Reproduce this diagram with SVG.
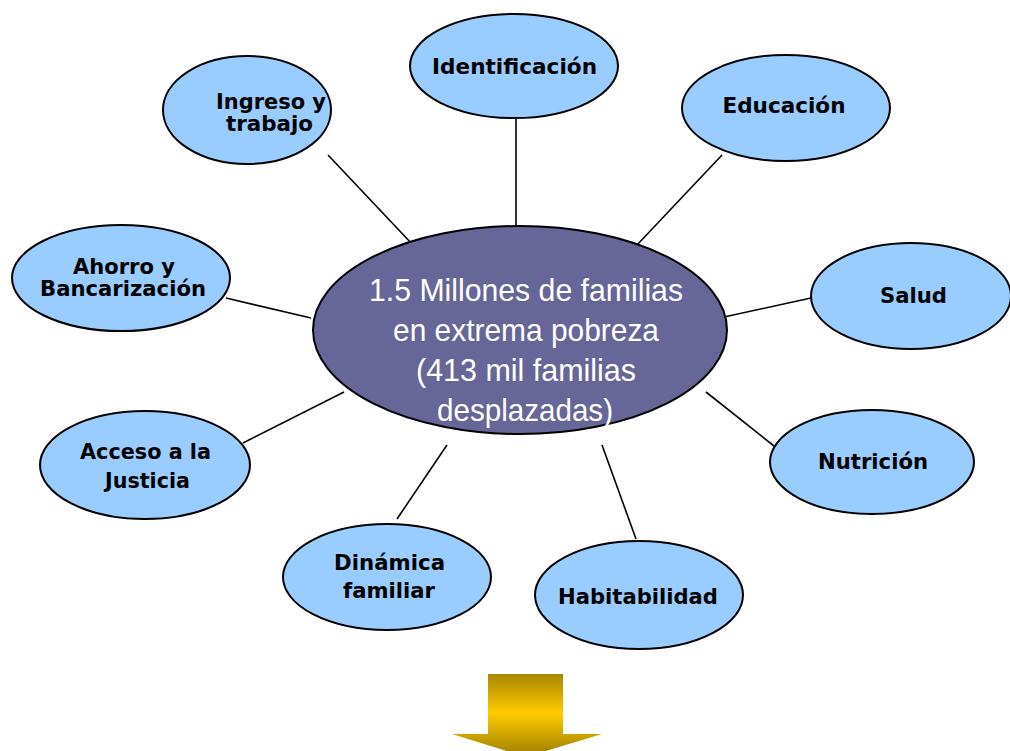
<svg xmlns="http://www.w3.org/2000/svg" width="1010" height="751" viewBox="0 0 1010 751">
<defs>
<linearGradient id="gold" gradientUnits="userSpaceOnUse" x1="0" y1="674" x2="0" y2="757">
<stop offset="0" stop-color="#a98600"/>
<stop offset="0.47" stop-color="#ffcc00"/>
<stop offset="1" stop-color="#9c7c00"/>
</linearGradient>
<style>
.sat{fill:#99ccff;stroke:#000;stroke-width:2}
.ctr{fill:#666699;stroke:#000;stroke-width:2}
.lbl{font-family:"DejaVu Sans",Verdana,sans-serif;font-weight:bold;font-size:21px;fill:#000;text-anchor:middle}
.big{font-family:"Liberation Sans",Arial,sans-serif;font-size:32px;fill:#fff;text-anchor:middle}
.con line{stroke:#000;stroke-width:1.6}
</style>
</defs>
<rect width="1010" height="751" fill="#fff"/>
<g class="con" id="connectors">
<line x1="328" y1="155" x2="413" y2="245"/>
<line x1="516" y1="118" x2="516" y2="226"/>
<line x1="722" y1="155" x2="637" y2="245"/>
<line x1="226" y1="298" x2="311" y2="318"/>
<line x1="811" y1="298" x2="724" y2="317"/>
<line x1="243" y1="443" x2="344" y2="392"/>
<line x1="774" y1="446" x2="706" y2="392"/>
<line x1="397" y1="519" x2="447" y2="445"/>
<line x1="636" y1="539" x2="602" y2="445"/>
</g>
<g id="center">
<ellipse class="ctr" cx="520" cy="330" rx="207" ry="104"/>
<text class="big" x="526" y="301" textLength="314" lengthAdjust="spacingAndGlyphs">1.5 Millones de familias</text>
<text class="big" x="526" y="341" textLength="266" lengthAdjust="spacingAndGlyphs">en extrema pobreza</text>
<text class="big" x="526" y="381" textLength="220" lengthAdjust="spacingAndGlyphs">(413 mil familias</text>
<text class="big" x="525" y="421" textLength="176" lengthAdjust="spacingAndGlyphs">desplazadas)</text>
</g>
<g id="identificacion">
<ellipse class="sat" cx="514" cy="66" rx="104" ry="52"/>
<text class="lbl" x="514.5" y="74" textLength="165" lengthAdjust="spacingAndGlyphs">Identificación</text>
</g>
<g id="ingreso">
<ellipse class="sat" cx="247" cy="110" rx="84" ry="54"/>
<text class="lbl" x="271" y="109" textLength="110" lengthAdjust="spacingAndGlyphs">Ingreso y</text>
<text class="lbl" x="269.5" y="131" textLength="87" lengthAdjust="spacingAndGlyphs">trabajo</text>
</g>
<g id="educacion">
<ellipse class="sat" cx="786" cy="108" rx="104" ry="53"/>
<text class="lbl" x="784" y="113" textLength="123" lengthAdjust="spacingAndGlyphs">Educación</text>
</g>
<g id="ahorro">
<ellipse class="sat" cx="121" cy="278" rx="109" ry="53"/>
<text class="lbl" x="124" y="274" textLength="102" lengthAdjust="spacingAndGlyphs">Ahorro y</text>
<text class="lbl" x="123" y="296" textLength="166" lengthAdjust="spacingAndGlyphs">Bancarización</text>
</g>
<g id="salud">
<ellipse class="sat" cx="911" cy="296" rx="100" ry="53"/>
<text class="lbl" x="913.5" y="303" textLength="67" lengthAdjust="spacingAndGlyphs">Salud</text>
</g>
<g id="acceso">
<ellipse class="sat" cx="145" cy="465" rx="105" ry="54"/>
<text class="lbl" x="145.5" y="459" textLength="131" lengthAdjust="spacingAndGlyphs">Acceso a la</text>
<text class="lbl" x="147.5" y="488" textLength="85" lengthAdjust="spacingAndGlyphs">Justicia</text>
</g>
<g id="nutricion">
<ellipse class="sat" cx="872" cy="462" rx="102" ry="52"/>
<text class="lbl" x="873" y="469" textLength="110" lengthAdjust="spacingAndGlyphs">Nutrición</text>
</g>
<g id="dinamica">
<ellipse class="sat" cx="387" cy="577" rx="104" ry="53"/>
<text class="lbl" x="389.5" y="570" textLength="111" lengthAdjust="spacingAndGlyphs">Dinámica</text>
<text class="lbl" x="389" y="598" textLength="92" lengthAdjust="spacingAndGlyphs">familiar</text>
</g>
<g id="habitabilidad">
<ellipse class="sat" cx="639" cy="595" rx="104" ry="54"/>
<text class="lbl" x="638" y="604" textLength="160" lengthAdjust="spacingAndGlyphs">Habitabilidad</text>
</g>
<g id="arrow">
<path d="M488,674 H563 V734 H602 L526,757 L452,734 H488 Z" fill="url(#gold)"/>
</g>
</svg>
